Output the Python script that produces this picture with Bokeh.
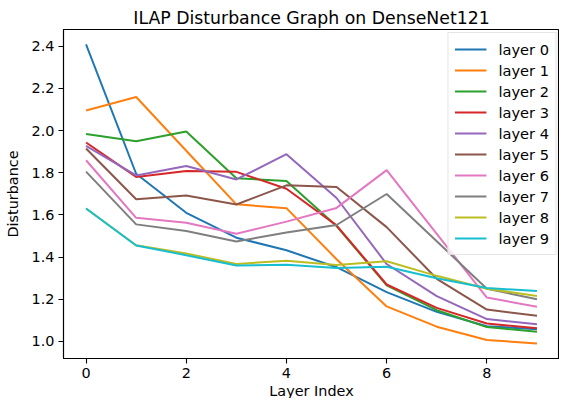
from bokeh.plotting import figure
from bokeh.models import Range1d, FixedTicker, NumeralTickFormatter, Legend, LegendItem, Title
from bokeh.embed import file_html
from bokeh.resources import INLINE

x = [0, 1, 2, 3, 4, 5, 6, 7, 8, 9]
layer0 = [2.408, 1.795, 1.610, 1.492, 1.432, 1.352, 1.234, 1.140, 1.072, 1.058]
layer1 = [2.095, 2.159, 1.904, 1.650, 1.632, 1.390, 1.166, 1.070, 1.007, 0.990]
layer2 = [1.984, 1.949, 1.995, 1.774, 1.761, 1.547, 1.266, 1.148, 1.068, 1.046]
layer3 = [1.943, 1.780, 1.808, 1.804, 1.724, 1.550, 1.270, 1.159, 1.085, 1.062]
layer4 = [1.927, 1.787, 1.832, 1.768, 1.888, 1.680, 1.367, 1.215, 1.106, 1.081]
layer5 = [1.915, 1.674, 1.692, 1.649, 1.740, 1.732, 1.542, 1.297, 1.151, 1.122]
layer6 = [1.859, 1.586, 1.563, 1.511, 1.568, 1.633, 1.812, 1.510, 1.208, 1.164]
layer7 = [1.805, 1.555, 1.524, 1.474, 1.516, 1.552, 1.699, 1.475, 1.250, 1.200]
layer8 = [1.630, 1.456, 1.417, 1.367, 1.383, 1.362, 1.380, 1.311, 1.250, 1.215]
layer9 = [1.630, 1.455, 1.409, 1.360, 1.364, 1.348, 1.354, 1.300, 1.253, 1.239]

series = [layer0, layer1, layer2, layer3, layer4, layer5, layer6, layer7, layer8, layer9]
names = ["layer %d" % i for i in range(10)]
colors = ["#1f77b4", "#ff7f0e", "#2ca02c", "#d62728", "#9467bd",
          "#8c564b", "#e377c2", "#7f7f7f", "#bcbd22", "#17becf"]
x_ticks = [0, 2, 4, 6, 8]
y_ticks = [1.0, 1.2, 1.4, 1.6, 1.8, 2.0, 2.2, 2.4]
x_label = "Layer Index"
y_label = "Disturbance"
title = "ILAP Disturbance Graph on DenseNet121"

FONT = "DejaVu Sans"
FS = "14.4px"

ymin = min(min(s) for s in series)
ymax = max(max(s) for s in series)
ypad = (ymax - ymin) * 0.05
xpad = (max(x) - min(x)) * 0.05

p = figure(width=559, height=398, output_backend="svg", toolbar_location=None,
           title=title,
           x_range=Range1d(min(x) - xpad, max(x) + xpad),
           y_range=Range1d(ymin - ypad, ymax + ypad),
           min_border_left=63, min_border_right=0, min_border_top=29, min_border_bottom=0)

p.title.text_font = FONT
p.title.text_font_size = "17.3px"
p.title.text_font_style = "normal"
p.title.align = "center"
p.title.text_color = "black"
p.title.standoff = 4

p.xgrid.visible = False
p.ygrid.visible = False
p.outline_line_color = "black"
p.outline_line_width = 1.1
p.background_fill_color = "white"
p.border_fill_color = "white"

for ax in (p.xaxis[0], p.yaxis[0]):
    ax.axis_line_color = "black"
    ax.axis_line_width = 1.1
    ax.major_tick_line_color = "black"
    ax.major_tick_line_width = 1.1
    ax.major_tick_in = 0
    ax.major_tick_out = 5
    ax.minor_tick_line_color = None
    ax.major_label_text_font = FONT
    ax.major_label_text_font_size = FS
    ax.major_label_text_color = "black"
    ax.axis_label_text_font = FONT
    ax.axis_label_text_font_size = FS
    ax.axis_label_text_font_style = "normal"
    ax.axis_label_text_color = "black"
    ax.major_label_standoff = 4

p.xaxis.ticker = FixedTicker(ticks=x_ticks)
p.yaxis.ticker = FixedTicker(ticks=y_ticks)
p.yaxis.formatter = NumeralTickFormatter(format="0.0")
p.yaxis.axis_label = y_label
p.yaxis.axis_label_standoff = 8

xlab = Title(text=x_label, align="center", text_font=FONT, text_font_size=FS,
             text_font_style="normal", text_color="black", standoff=0, offset=0)
p.add_layout(xlab, "below")

items = []
for s, n, c in zip(series, names, colors):
    r = p.line(x, s, line_color=c, line_width=2)
    items.append(LegendItem(label=n, renderers=[r]))

legend = Legend(items=items, location="top_right")
legend.label_text_font = FONT
legend.label_text_font_size = "14.6px"
legend.label_text_color = "black"
legend.glyph_width = 32
legend.glyph_height = 20
legend.label_height = 20
legend.spacing = 1
legend.label_standoff = 12
legend.padding = 6
legend.margin = 3
legend.border_line_color = "#cccccc"
legend.border_line_width = 1
legend.background_fill_alpha = 0.8
p.add_layout(legend)

open("out.html", "w").write(file_html(p, INLINE))
